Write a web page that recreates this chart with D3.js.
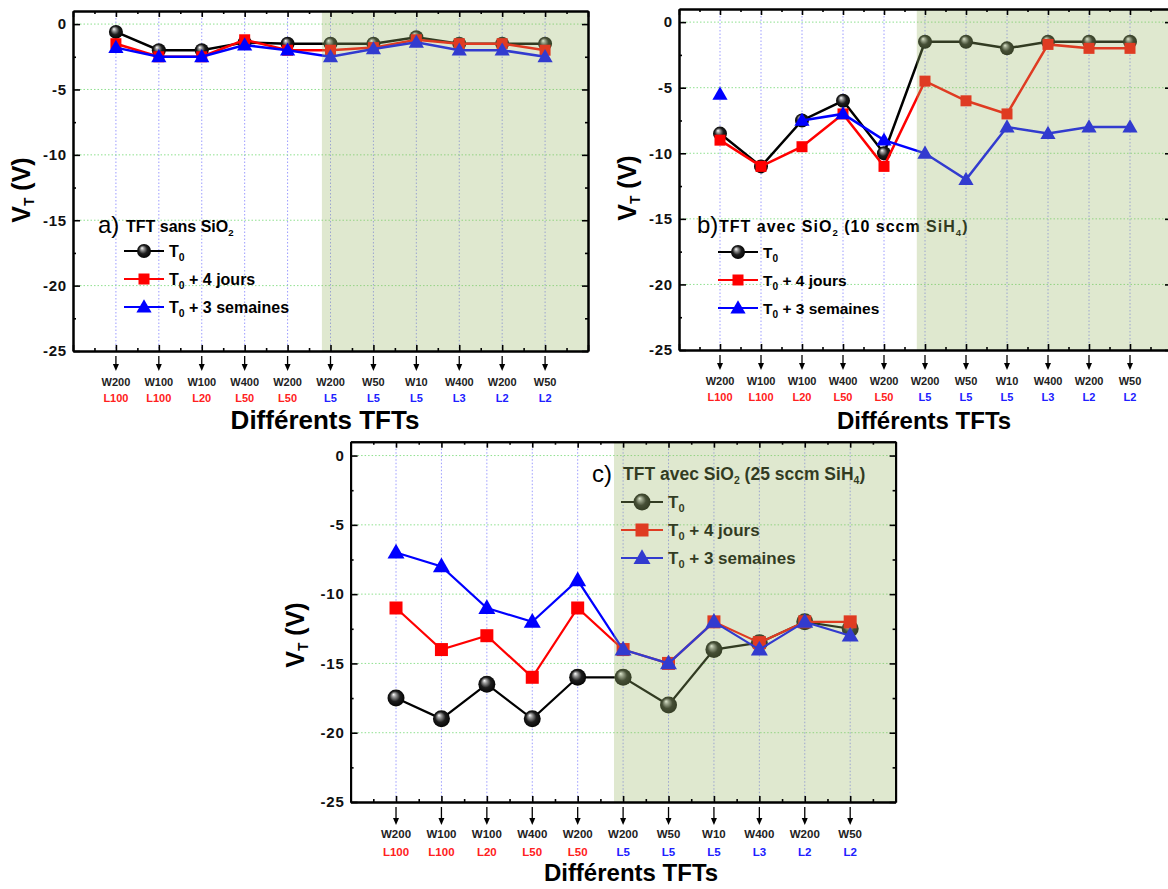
<!DOCTYPE html>
<html>
<head>
<meta charset="utf-8">
<script src="https://cdn.jsdelivr.net/npm/d3@7"></script>
<style>
body { margin: 0; background: #fff; }
svg { display: block; font-family: "Liberation Sans", Arial, sans-serif; font-weight: bold; }
</style>
</head>
<body>
<svg id="fig" width="1168" height="889"></svg>
<script>
// device labels under each tick
const wLabels = ["W200", "W100", "W100", "W400", "W200", "W200", "W50", "W10", "W400", "W200", "W50"];
const lLabels = ["L100", "L100", "L20", "L50", "L50", "L5", "L5", "L5", "L3", "L2", "L2"];
const yTicks = [0, -5, -10, -15, -20, -25];

// a) TFT sans SiO2
const aT0 = [-0.6, -2, -2, -1.4, -1.5, -1.5, -1.5, -1, -1.5, -1.5, -1.5];
const aJ4 = [-1.5, -2.5, -2.5, -1.2, -2, -2, -1.8, -1.2, -1.5, -1.5, -2];
const aS3 = [-1.8, -2.5, -2.5, -1.6, -2, -2.5, -1.9, -1.4, -2, -2, -2.5];

// b) TFT avec SiO2 (10 sccm SiH4)
const bT0 = [-8.5, -11, -7.5, -6, -10, -1.5, -1.5, -2, -1.5, -1.5, -1.5];
const bJ4 = [-9, -11, -9.5, -7, -11, -4.5, -6, -7, -1.7, -2, -2];
const bS3 = [-5.5, null, -7.5, -7, -9, -10, -12, -8, -8.5, -8, -8];

// c) TFT avec SiO2 (25 sccm SiH4)
const cT0 = [-17.5, -19, -16.5, -19, -16, -16, -18, -14, -13.5, -12, -12.5];
const cJ4 = [-11, -14, -13, -16, -11, -14, -15, -12, -13.5, -12, -12];
const cS3 = [-7, -8, -11, -12, -9, -14, -15, -12, -14, -12, -13];

const svg = d3.select("#fig");

const defs = svg.append("defs");
const grad = defs.append("radialGradient").attr("id", "ball")
    .attr("cx", "50%").attr("cy", "50%").attr("r", "55%")
    .attr("fx", "35%").attr("fy", "28%");
grad.append("stop").attr("offset", "0%").attr("stop-color", "#ffffff");
grad.append("stop").attr("offset", "22%").attr("stop-color", "#9a9a9a");
grad.append("stop").attr("offset", "55%").attr("stop-color", "#1e1e1e");
grad.append("stop").attr("offset", "100%").attr("stop-color", "#000000");

function rich(sel, parts, subSize) {
    parts.forEach(p => {
        const sub = p[1];
        sel.append("tspan")
            .attr("dy", sub ? 4 : (sel.attr("data-sub") === "1" ? -4 : 0))
            .attr("font-size", sub ? subSize : null)
            .text(p[0]);
        sel.attr("data-sub", sub ? "1" : "0");
    });
}

function marker(g, kind, x, y, s) {
    if (kind === 0) {
        g.append("circle").attr("cx", x).attr("cy", y).attr("r", s.r)
            .attr("fill", "url(#ball)");
    } else if (kind === 1) {
        g.append("rect").attr("x", x - s.sq / 2).attr("y", y - s.sq / 2)
            .attr("width", s.sq).attr("height", s.sq).attr("fill", "#ff0000");
    } else {
        g.append("path")
            .attr("d", d3.symbol().type(d3.symbolTriangle).size(s.tri)())
            .attr("transform", `translate(${x},${y + 1})`)
            .attr("fill", "#0000ff");
    }
}

const colors = ["#000000", "#ff0000", "#0000ff"];

function drawPanel(p) {
    const x = d3.scaleLinear().domain([0, 12]).range([p.x0, p.x1]);
    const y = d3.scaleLinear().domain([-25, 1]).range([p.y0, p.y1]);
    const g = svg.append("g");
    const idx = d3.range(1, 12);

    // grid
    g.append("g").selectAll("line").data(idx).join("line")
        .attr("x1", d => x(d)).attr("x2", d => x(d))
        .attr("y1", p.y1).attr("y2", p.y0)
        .attr("stroke", "#9c9cff").attr("stroke-width", 1)
        .attr("stroke-dasharray", "1.5,2");
    g.append("g").selectAll("line").data(yTicks.slice(0, 5)).join("line")
        .attr("x1", p.x0).attr("x2", p.x1)
        .attr("y1", d => y(d)).attr("y2", d => y(d))
        .attr("stroke", "#8fe08f").attr("stroke-width", 1)
        .attr("stroke-dasharray", "1.5,2");

    // series
    const series = [p.t0, p.j4, p.s3];
    series.forEach((vals, k) => {
        const pts = vals.map((v, i) => [i + 1, v]);
        const line = d3.line().defined(d => d[1] != null).x(d => x(d[0])).y(d => y(d[1]));
        g.append("path").attr("d", line(pts)).attr("fill", "none")
            .attr("stroke", colors[k]).attr("stroke-width", p.lw);
        pts.filter(d => d[1] != null).forEach(d => marker(g, k, x(d[0]), y(d[1]), p));
    });

    // legend
    const lg = g.append("g");
    lg.append("text").attr("x", p.lab[0]).attr("y", p.lab[1])
        .attr("font-size", p.labSize).attr("font-weight", "normal").text(p.letter);
    rich(lg.append("text").attr("x", p.title[0]).attr("y", p.title[1])
        .attr("font-size", p.titleSize).attr("letter-spacing", p.titleSpacing),
        p.titleParts, p.titleSize * 0.6);
    const names = [[["T", 0], ["0", 1]], [["T", 0], ["0", 1], [" + 4 jours", 0]], [["T", 0], ["0", 1], [" + 3 semaines", 0]]];
    names.forEach((nm, k) => {
        const ly = p.leg[1] + k * p.legStep;
        lg.append("line").attr("x1", p.leg[0]).attr("x2", p.leg[0] + p.legLen)
            .attr("y1", ly).attr("y2", ly).attr("stroke", colors[k]).attr("stroke-width", 2);
        marker(lg, k, p.leg[0] + p.legLen / 2, ly, p);
        rich(lg.append("text").attr("x", p.leg[0] + p.legLen + 5).attr("y", ly + p.legSize * 0.36)
            .attr("font-size", p.legSize), nm, p.legSize * 0.65);
    });

    // shaded region (drawn over data like a translucent layer)
    g.append("rect").attr("x", x(5.8)).attr("y", p.y1)
        .attr("width", x(12) - x(5.8)).attr("height", p.y0 - p.y1)
        .attr("fill", "rgb(155,185,105)").attr("fill-opacity", 0.32);

    // axes: all ticks inward
    const major = d3.range(0, 13, 1), minor = d3.range(0.5, 12, 1);
    const yMinor = [-2.5, -7.5, -12.5, -17.5, -22.5];
    const ax = [
        [d3.axisBottom(x).tickValues(major).tickSize(-6), `translate(0,${p.y0})`],
        [d3.axisBottom(x).tickValues(minor).tickSize(-3), `translate(0,${p.y0})`],
        [d3.axisTop(x).tickValues(major).tickSize(-6), `translate(0,${p.y1})`],
        [d3.axisTop(x).tickValues(minor).tickSize(-3), `translate(0,${p.y1})`],
        [d3.axisRight(y).tickValues(yTicks).tickSize(-6), `translate(${p.x1},0)`],
        [d3.axisRight(y).tickValues(yMinor).tickSize(-3), `translate(${p.x1},0)`],
        [d3.axisLeft(y).tickValues(yMinor).tickSize(-3), `translate(${p.x0},0)`]
    ];
    ax.forEach(a => {
        const gg = g.append("g").attr("transform", a[1]).call(a[0].tickSizeOuter(0).tickFormat(""));
        gg.select(".domain").attr("stroke-width", 2);
        gg.selectAll(".tick line").attr("stroke-width", 1.6);
    });
    const gy = g.append("g").attr("transform", `translate(${p.x0},0)`)
        .call(d3.axisLeft(y).tickValues(yTicks).tickSize(-7).tickSizeOuter(0).tickPadding(6)
            .tickFormat(d => String(d)))
        .attr("font-family", null).attr("font-size", null);
    gy.select(".domain").attr("stroke-width", 2);
    gy.selectAll(".tick line").attr("stroke-width", 1.6);
    gy.selectAll("text").attr("font-size", p.tickSize)
        .attr("font-weight", "bold").attr("fill", "#111").attr("letter-spacing", 0.8);

    // arrows + device labels
    idx.forEach((d, i) => {
        const cx = x(d);
        g.append("line").attr("x1", cx).attr("x2", cx)
            .attr("y1", p.y0 + 5).attr("y2", p.y0 + p.arrow - 4)
            .attr("stroke", "#000").attr("stroke-width", 1.3);
        g.append("path")
            .attr("d", `M${cx - 3},${p.y0 + p.arrow - 6}L${cx + 3},${p.y0 + p.arrow - 6}L${cx},${p.y0 + p.arrow + 1}Z`)
            .attr("fill", "#000");
        g.append("text").attr("x", cx).attr("y", p.y0 + p.wy).attr("text-anchor", "middle")
            .attr("font-size", p.devSize).attr("fill", "#222").text(wLabels[i]);
        g.append("text").attr("x", cx).attr("y", p.y0 + p.ly).attr("text-anchor", "middle")
            .attr("font-size", p.devSize).attr("fill", i < 5 ? "#ff2020" : "#2020ff").text(lLabels[i]);
    });

    // axis titles
    g.append("text").attr("x", p.xt[0]).attr("y", p.xt[1]).attr("text-anchor", "middle")
        .attr("font-size", p.xtSize).text("Différents TFTs");
    const yt = g.append("text").attr("transform", `translate(${p.yt[0]},${p.yt[1]}) rotate(-90)`)
        .attr("text-anchor", "middle").attr("font-size", p.ytSize);
    rich(yt, [["V", 0], ["T", 1], [" (V)", 0]], p.ytSize * 0.55);
}

const common = { lw: 2.5, r: 7, sq: 11, tri: 100, tickSize: 15, devSize: 11, labSize: 24,
    legSize: 16, titleSize: 16, titleSpacing: 0, legStep: 28, legLen: 40, arrow: 19,
    wy: 35, ly: 51, xtSize: 26, ytSize: 25 };

drawPanel(Object.assign({}, common, {
    x0: 73, x1: 588, y0: 351, y1: 11, t0: aT0, j4: aJ4, s3: aS3,
    letter: "a)", lab: [98, 233], title: [126, 232],
    titleParts: [["TFT sans SiO", 0], ["2", 1]],
    leg: [124, 251], xt: [325, 429], yt: [30, 190]
}));

drawPanel(Object.assign({}, common, {
    x0: 679, x1: 1171, y0: 350, y1: 9, t0: bT0, j4: bJ4, s3: bS3,
    letter: "b)", lab: [697, 233], title: [719, 232], legSize: 15.5, titleSpacing: 1,
    titleParts: [["TFT avec SiO", 0], ["2", 1], [" (10 sccm SiH", 0], ["4", 1], [")", 0]],
    leg: [718, 252], xt: [924, 429], yt: [636, 188], xtSize: 24
}));

drawPanel(Object.assign({}, common, {
    x0: 350.6, x1: 895.6, y0: 802, y1: 441.7, t0: cT0, j4: cJ4, s3: cS3,
    lw: 2.2, r: 8.5, sq: 13, tri: 125, devSize: 11.5, legSize: 17, titleSize: 17.5, legStep: 28, legLen: 42,
    letter: "c)", lab: [592, 482], title: [623, 480],
    titleParts: [["TFT avec SiO", 0], ["2", 1], [" (25 sccm SiH", 0], ["4", 1], [")", 0]],
    leg: [621, 502], xt: [631, 881], yt: [304, 635], xtSize: 24, arrow: 22, wy: 36, ly: 54
}));
</script>
</body>
</html>
